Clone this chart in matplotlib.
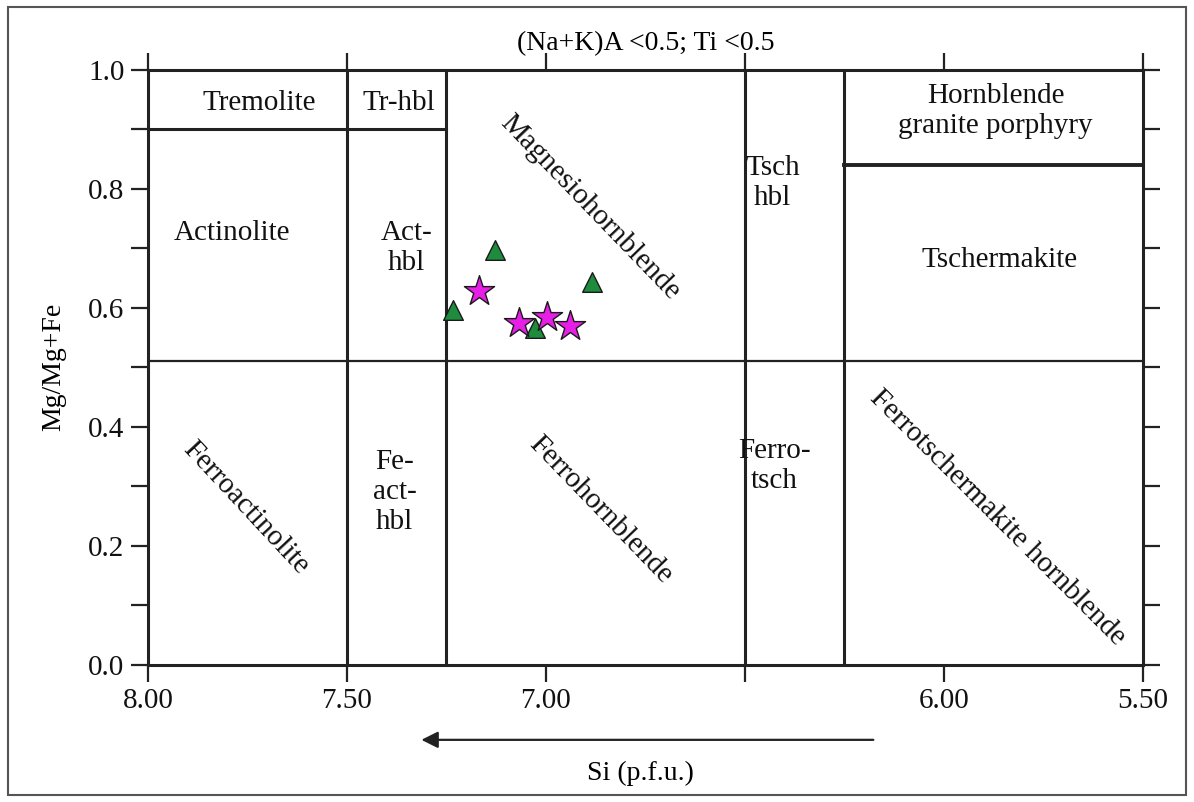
import matplotlib.pyplot as plt
from matplotlib.patches import Rectangle

plt.rcParams['font.family'] = ['Liberation Serif', 'DejaVu Serif']

# Sample data (Si p.f.u., Mg/(Mg+Fe))
tri_si = [7.128, 6.883, 7.234, 7.028]
tri_mg = [0.697, 0.644, 0.597, 0.566]
star_si = [7.168, 7.067, 6.998, 6.940]
star_mg = [0.629, 0.575, 0.585, 0.570]

# Field boundaries
si_bounds = [7.50, 7.25, 6.50, 6.25]
mg_split = 0.51
x_ticks = [8.00, 7.50, 7.00, 6.50, 6.00, 5.50]
x_ticklabels = ['8.00', '7.50', '7.00', '', '6.00', '5.50']
y_ticks = [0.0, 0.1, 0.2, 0.3, 0.4, 0.5, 0.6, 0.7, 0.8, 0.9, 1.0]
y_ticklabels = ['0.0', '', '0.2', '', '0.4', '', '0.6', '', '0.8', '', '1.0']

# Field names: (text, si, mg, rotation)
fields = [
    ('Tremolite', 7.72, 0.945, 0),
    ('Tr-hbl', 7.37, 0.945, 0),
    ('Actinolite', 7.79, 0.725, 0),
    ('Act-\nhbl', 7.35, 0.70, 0),
    ('Magnesiohornblende', 6.89, 0.768, -46),
    ('Tsch\nhbl', 6.43, 0.81, 0),
    ('Hornblende\ngranite porphyry', 5.87, 0.93, 0),
    ('Tschermakite', 5.86, 0.68, 0),
    ('Ferroactinolite', 7.755, 0.263, -47),
    ('Fe-\nact-\nhbl', 7.38, 0.29, 0),
    ('Ferrohornblende', 6.862, 0.26, -46),
    ('Ferro-\ntsch', 6.425, 0.335, 0),
    ('Ferrotschermakite hornblende', 5.864, 0.247, -45),
]

fig = plt.figure(figsize=(11.94, 8.02), dpi=100)
ax = fig.add_axes([0.124, 0.171, 0.833, 0.742])

lw = 2.2
for s in si_bounds:
    ax.plot([s, s], [0, 1], color='#222222', lw=lw)
ax.plot([8.0, 5.5], [mg_split, mg_split], color='#222222', lw=1.6)
ax.plot([8.0, 7.25], [0.9, 0.9], color='#222222', lw=lw)
ax.plot([6.25, 5.5], [0.84, 0.84], color='#222222', lw=lw + 0.6)

ax.scatter(tri_si, tri_mg, marker='^', s=200, color='#1e8c3c',
           edgecolor='#1a1a1a', linewidth=1, zorder=5)
ax.scatter(star_si, star_mg, marker='*', s=520, color='#e61ee6',
           edgecolor='#1a1a1a', linewidth=1, zorder=6)

for txt, sx, sy, rot in fields:
    ax.text(sx, sy, txt, fontsize=21, ha='center', va='center',
            rotation=rot, rotation_mode='anchor', linespacing=1.2,
            color='#111111')

ax.set_xlim(8.0, 5.5)
ax.set_ylim(0, 1.0)
ax.set_xticks(x_ticks)
ax.set_xticklabels(x_ticklabels)
ax.set_yticks(y_ticks)
ax.set_yticklabels(y_ticklabels)
ax.tick_params(direction='out', length=12, width=1.6, labelsize=21,
               top=True, right=True, pad=5, colors='#222222',
               labelcolor='#111111')
for sp in ax.spines.values():
    sp.set_linewidth(lw)
    sp.set_color('#222222')

ax.set_title('(Na+K)A <0.5; Ti <0.5', fontsize=20, pad=14)
ax.set_ylabel('Mg/Mg+Fe', fontsize=20, labelpad=16)

# direction arrow and x label below the axes
ax.annotate('', xy=(7.32, -0.126), xytext=(6.17, -0.126),
            annotation_clip=False,
            arrowprops=dict(arrowstyle='-|>', color='#222222', lw=1.6,
                            mutation_scale=25))
fig.text(0.536, 0.036, 'Si (p.f.u.)', fontsize=20, ha='center', va='center')

# outer frame around the whole figure
fig.patches.append(Rectangle((0.007, 0.009), 0.986, 0.982, fill=False,
                             edgecolor='#555555', lw=1.5,
                             transform=fig.transFigure))

plt.savefig('out.png', dpi=100)
